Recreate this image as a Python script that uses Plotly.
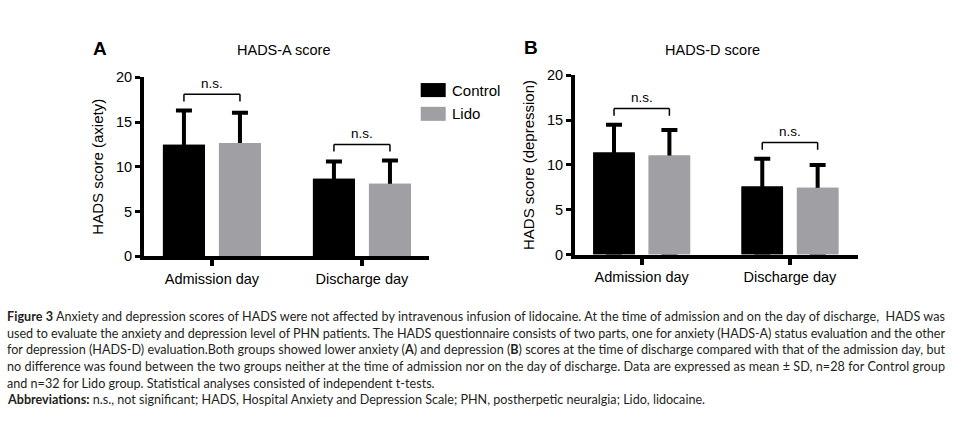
import plotly.graph_objects as go

W, H = 972, 423

categories = ["Admission day", "Discharge day"]
groups = ["Control", "Lido"]

# Panel A: HADS-A (anxiety), mean and SD
a_control_mean = [12.45, 8.65]
a_control_sd = [3.85, 1.95]
a_lido_mean = [12.65, 8.1]
a_lido_sd = [3.4, 2.6]

# Panel B: HADS-D (depression), mean and SD
b_control_mean = [11.4, 7.6]
b_control_sd = [3.1, 3.1]
b_lido_mean = [11.05, 7.45]
b_lido_sd = [2.85, 2.55]

y_ticks = [0, 5, 10, 15, 20]
sig_labels = ["n.s.", "n.s."]

caption_lines = [
    "<b>Figure 3</b> Anxiety and depression scores of HADS were not affected by intravenous infusion of lidocaine. At the time of admission and on the day of discharge,  HADS was",
    "used to evaluate the anxiety and depression level of PHN patients. The HADS questionnaire consists of two parts, one for anxiety (HADS-A) status evaluation and the other",
    "for depression (HADS-D) evaluation.Both groups showed lower anxiety (<b>A</b>) and depression (<b>B</b>) scores at the time of discharge compared with that of the admission day, but",
    "no difference was found between the two groups neither at the time of admission nor on the day of discharge. Data are expressed as mean ± SD, n=28 for Control group",
    "and n=32 for Lido group. Statistical analyses consisted of independent t-tests.",
    "<b>Abbreviations:</b> n.s., not significant; HADS, Hospital Anxiety and Depression Scale; PHN, postherpetic neuralgia; Lido, lidocaine.",
]
caption_justified = [True, True, True, True, False, False]

BLACK = "#000000"
GRAY = "#a0a0a4"
FONT = "Liberation Sans, Arial, sans-serif"
CAP_FONT = "Lato, Liberation Sans, sans-serif"
BARGAP = 0.253
OFF = (1 - BARGAP) / 4


def px(x):
    return x / W


def py(y):
    return 1 - y / H


fig = go.Figure()

panels = [
    dict(xa="x", ya="y", cm=a_control_mean, cs=a_control_sd, lm=a_lido_mean, ls=a_lido_sd),
    dict(xa="x2", ya="y2", cm=b_control_mean, cs=b_control_sd, lm=b_lido_mean, ls=b_lido_sd),
]

for p in panels:
    series = [(groups[0], p["cm"], p["cs"], BLACK), (groups[1], p["lm"], p["ls"], GRAY)]
    # bars carrying the error bars (lower end hidden at zero)
    for name, m, s, col in series:
        fig.add_trace(go.Bar(
            x=categories, y=m, name=name, xaxis=p["xa"], yaxis=p["ya"],
            offsetgroup=name, marker=dict(color=col, line=dict(width=0)),
            error_y=dict(type="data", symmetric=False, array=s, arrayminus=m,
                         color=BLACK, thickness=4, width=8),
            showlegend=False, hoverinfo="skip"))
    # covering bars
    for name, m, s, col in series:
        fig.add_trace(go.Bar(
            x=categories, y=m, name=name, xaxis=p["xa"], yaxis=p["ya"],
            offsetgroup=name, marker=dict(color=col, line=dict(width=0)),
            showlegend=False))
    # significance brackets
    for i, lab in enumerate(sig_labels):
        top = max(p["cm"][i] + p["cs"][i], p["lm"][i] + p["ls"][i]) + 1.8
        low = top - 0.8
        for (x0, y0, x1, y1) in [(i - OFF, low, i - OFF, top), (i - OFF, top, i + OFF, top),
                                 (i + OFF, top, i + OFF, low)]:
            fig.add_shape(type="line", xref=p["xa"], yref=p["ya"], x0=x0, y0=y0, x1=x1, y1=y1,
                          line=dict(color=BLACK, width=1.5))
        fig.add_annotation(x=i, y=top + 1.2, xref=p["xa"], yref=p["ya"], text=lab,
                           showarrow=False, font=dict(size=13.5, color=BLACK, family=FONT),
                           yanchor="middle")

axis_common = dict(showline=True, linewidth=4, linecolor=BLACK, showgrid=False, zeroline=False,
                   ticks="outside", tickcolor=BLACK, tickfont=dict(size=14.5, color=BLACK, family=FONT))

fig.update_layout(
    width=W, height=H, autosize=False,
    margin=dict(l=0, r=0, t=0, b=0),
    paper_bgcolor="white", plot_bgcolor="white",
    barmode="group", bargap=BARGAP, bargroupgap=0.25,
    font=dict(family=FONT, color=BLACK),
    xaxis=dict(domain=[px(144), px(429)], range=[-0.453, 1.447], type="category",
               anchor="y", ticklen=6, tickwidth=4, **axis_common),
    yaxis=dict(domain=[py(258), py(72)], range=[0, 20], tickvals=y_ticks, anchor="x",
               ticklen=5, tickwidth=3,
               title=dict(text="HADS score (axiety)", font=dict(size=15, family=FONT), standoff=10),
               **axis_common),
    xaxis2=dict(domain=[px(575), px(858)], range=[-0.45, 1.459], type="category",
                anchor="y2", ticklen=6, tickwidth=4, **axis_common),
    yaxis2=dict(domain=[py(256.3), py(70)], range=[0, 20], tickvals=y_ticks, anchor="x2",
                ticklen=5, tickwidth=3,
                title=dict(text="HADS score (depression)", font=dict(size=15, family=FONT), standoff=10),
                **axis_common),
)

# panel letters and titles
for txt, x, y, size, bold in [("A", 99.5, 42, 19, True), ("HADS-A score", 283, 44, 14.5, False),
                              ("B", 531, 41, 19, True), ("HADS-D score", 712.7, 43.5, 14.5, False)]:
    fig.add_annotation(x=px(x), y=py(y), xref="paper", yref="paper",
                       text=f"<b>{txt}</b>" if bold else txt, showarrow=False,
                       xanchor="center", yanchor="middle",
                       font=dict(size=size, color=BLACK, family=FONT))

# legend (manual)
for (name, col, yc) in [(groups[0], BLACK, 85.3), (groups[1], GRAY, 110)]:
    fig.add_shape(type="rect", xref="paper", yref="paper", x0=px(420.7), x1=px(445.7),
                  y0=py(yc + 7.3), y1=py(yc - 7.3), fillcolor=col, line=dict(width=0))
    fig.add_annotation(x=px(450), y=py(yc), xref="paper", yref="paper", text=name,
                       showarrow=False, xanchor="left", yanchor="middle",
                       font=dict(size=15, color=BLACK, family=FONT))

# caption; justified lines are stretched to the text width in the browser
CAP_L, CAP_R = 5, 943
cap_y = [320.7, 338, 355.3, 372.6, 390, 407.3]
cap_font = dict(size=12.6, color="#231f20", family=CAP_FONT)
just_idx = []
for line, yc, just in zip(caption_lines, cap_y, caption_justified):
    if just:
        just_idx.append(len(fig.layout.annotations))
    fig.add_annotation(x=px(CAP_L), y=py(yc), xref="paper", yref="paper", text=line,
                       showarrow=False, xanchor="left", yanchor="middle", align="left",
                       font=cap_font)

post = """
document.body.style.margin='0';document.body.style.padding='0';
var gd = document.getElementById('{plot_id}');
var idx = %s;
idx.forEach(function(i){
  var t = gd.querySelector('.annotation[data-index="' + i + '"] .annotation-text');
  if (t) { t.setAttribute('textLength', '%d'); t.setAttribute('lengthAdjust', 'spacing'); }
});
""" % (str(just_idx), CAP_R - CAP_L)

fig.write_html("out.html", config={"displayModeBar": False}, post_script=post)
